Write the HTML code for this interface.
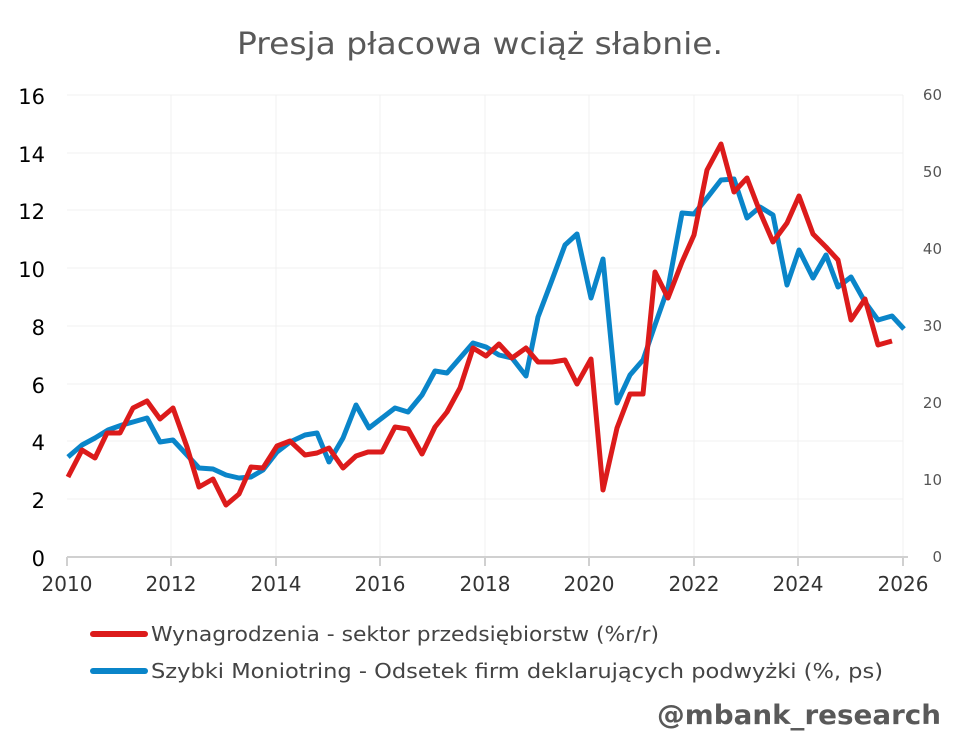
<!DOCTYPE html>
<html><head><meta charset="utf-8"><style>
html,body{margin:0;padding:0;background:#fff;}
svg{display:block;font-family:"DejaVu Sans","Liberation Sans",sans-serif;}
</style></head><body>
<svg width="960" height="740" viewBox="0 0 960 740">
<text x="480" y="54" text-anchor="middle" font-size="30" fill="#595959" textLength="486" lengthAdjust="spacingAndGlyphs">Presja płacowa wciąż słabnie.</text>
<g stroke="#f0f0f0" stroke-width="1">
<line x1="67" y1="95" x2="903" y2="95"/><line x1="67" y1="153" x2="903" y2="153"/><line x1="67" y1="210" x2="903" y2="210"/><line x1="67" y1="268" x2="903" y2="268"/><line x1="67" y1="326" x2="903" y2="326"/><line x1="67" y1="384" x2="903" y2="384"/><line x1="67" y1="441" x2="903" y2="441"/><line x1="67" y1="499" x2="903" y2="499"/>
<line x1="171" y1="95" x2="171" y2="557"/><line x1="276" y1="95" x2="276" y2="557"/><line x1="380" y1="95" x2="380" y2="557"/><line x1="485" y1="95" x2="485" y2="557"/><line x1="589" y1="95" x2="589" y2="557"/><line x1="694" y1="95" x2="694" y2="557"/><line x1="798" y1="95" x2="798" y2="557"/><line x1="903" y1="95" x2="903" y2="557"/>
</g>
<g stroke="#d0d0d0" stroke-width="2">
<line x1="67" y1="557" x2="908" y2="557"/>
<line x1="67" y1="557" x2="67" y2="566"/><line x1="171" y1="557" x2="171" y2="566"/><line x1="276" y1="557" x2="276" y2="566"/><line x1="380" y1="557" x2="380" y2="566"/><line x1="485" y1="557" x2="485" y2="566"/><line x1="589" y1="557" x2="589" y2="566"/><line x1="694" y1="557" x2="694" y2="566"/><line x1="798" y1="557" x2="798" y2="566"/><line x1="903" y1="557" x2="903" y2="566"/>
</g>
<g font-size="21" fill="#000" text-anchor="end">
<text x="45" y="104">16</text><text x="45" y="162">14</text><text x="45" y="219">12</text><text x="45" y="277">10</text><text x="45" y="335">8</text><text x="45" y="393">6</text><text x="45" y="450">4</text><text x="45" y="508">2</text><text x="45" y="566">0</text>
</g>
<g font-size="15" fill="#555" text-anchor="end">
<text x="942" y="100">60</text><text x="942" y="177">50</text><text x="942" y="254">40</text><text x="942" y="331">30</text><text x="942" y="408">20</text><text x="942" y="485">10</text><text x="942" y="562">0</text>
</g>
<g font-size="20" fill="#333" text-anchor="middle">
<text x="67" y="591">2010</text><text x="171" y="591">2012</text><text x="276" y="591">2014</text><text x="380" y="591">2016</text><text x="485" y="591">2018</text><text x="589" y="591">2020</text><text x="694" y="591">2022</text><text x="798" y="591">2024</text><text x="903" y="591">2026</text>
</g>
<polyline fill="none" stroke="#0a85c9" stroke-width="5" stroke-linejoin="round" points="68,457 82,445 95,438 108,430 122,425 133,422 147,418 160,442 173,440 187,455 199,468 213,469 226,475 239,478 251,477 263,470 277,452 290,442 305,435 317,433 329,462 343,438 356,405 369,428 382,418 395,408 408,412 422,395 435,371 447,373 460,358 473,343 486,347 499,355 512,358 526,376 538,317 552,280 565,245 577,234 591,298 603,259 617,403 630,375 643,360 655,325 668,288 682,213 694,214 707,198 721,180 734,179 747,218 760,207 773,215 787,285 799,250 813,278 826,255 838,287 851,277 865,302 878,320 892,316 904,329"/>
<polyline fill="none" stroke="#dc1b1b" stroke-width="5" stroke-linejoin="round" points="68,477 82,450 95,458 107,433 120,433 133,408 147,401 160,419 173,408 187,447 199,487 213,479 226,505 239,494 251,467 263,468 277,446 290,441 305,455 317,453 329,448 343,468 356,456 368,452 382,452 395,427 408,429 422,454 435,427 447,412 460,388 473,348 486,356 499,344 512,358 526,348 538,362 552,362 565,360 577,384 591,359 603,490 617,428 630,394 643,394 655,272 668,298 682,262 694,235 707,170 721,144 734,192 747,178 760,212 773,242 787,223 799,196 813,234 826,247 838,260 851,320 865,299 878,345 892,341"/>
<line x1="93" y1="634" x2="145" y2="634" stroke="#dc1b1b" stroke-width="6" stroke-linecap="round"/>
<line x1="93" y1="671" x2="145" y2="671" stroke="#0a85c9" stroke-width="6" stroke-linecap="round"/>
<g font-size="20" fill="#444">
<text x="151" y="641" textLength="508" lengthAdjust="spacingAndGlyphs">Wynagrodzenia - sektor przedsiębiorstw (%r/r)</text>
<text x="151" y="678" textLength="732" lengthAdjust="spacingAndGlyphs">Szybki Moniotring - Odsetek firm deklarujących podwyżki (%, ps)</text>
</g>
<text x="941" y="724" text-anchor="end" font-size="27" font-weight="bold" fill="#595959" textLength="284" lengthAdjust="spacingAndGlyphs">@mbank_research</text>
</svg>
</body></html>
